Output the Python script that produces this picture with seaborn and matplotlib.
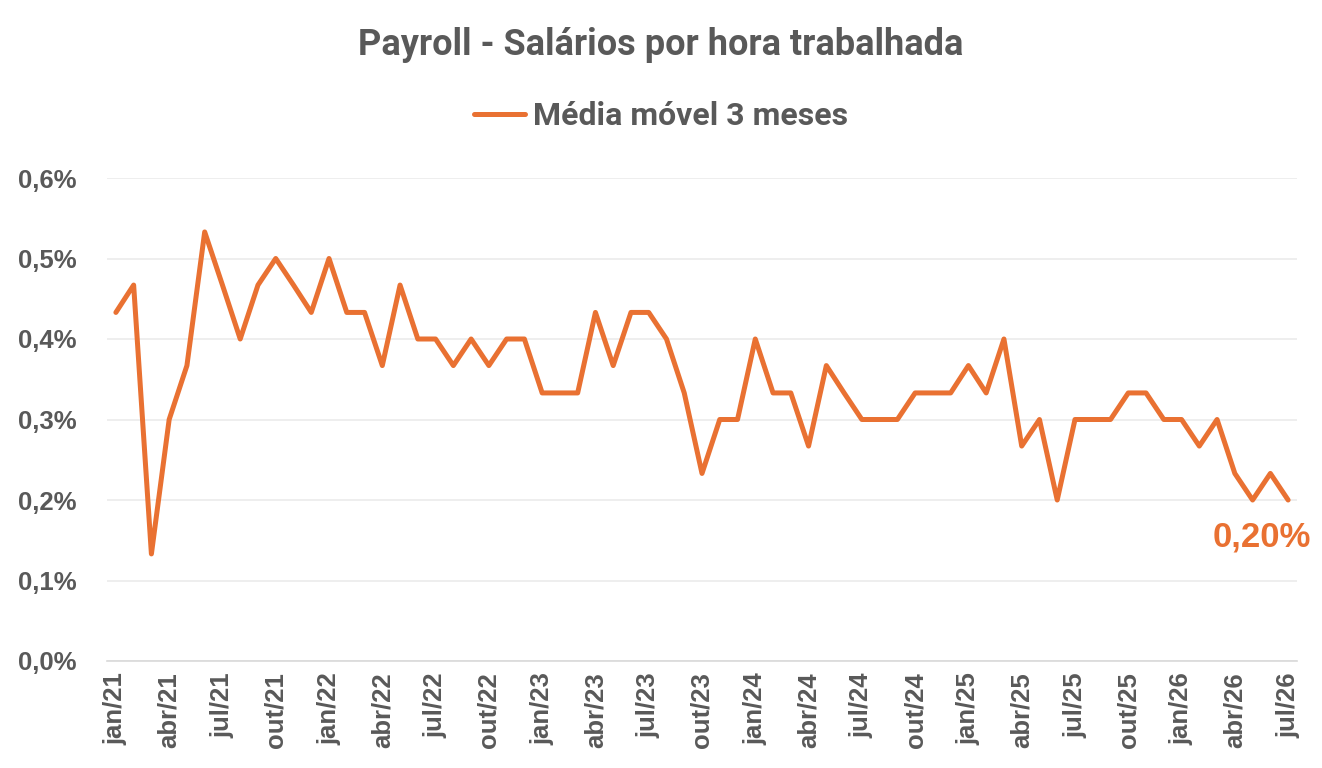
import matplotlib
matplotlib.use("Agg")
import matplotlib.pyplot as plt
import seaborn as sns
import pandas as pd
from matplotlib.ticker import FixedLocator, FuncFormatter

# ---------------------------------------------------------------
# Data: 3-month moving average of hourly wage growth (% m/m)
# ---------------------------------------------------------------
tick_labels = [
    "jan/21", "abr/21", "jul/21", "out/21",
    "jan/22", "abr/22", "jul/22", "out/22",
    "jan/23", "abr/23", "jul/23", "out/23",
    "jan/24", "abr/24", "jul/24", "out/24",
    "jan/25", "abr/25", "jul/25", "out/25",
    "jan/26", "abr/26", "jul/26",
]

media_movel = [
    0.433, 0.467, 0.133, 0.300, 0.367, 0.533, 0.467, 0.400, 0.467, 0.500, 0.467, 0.433,
    0.500, 0.433, 0.433, 0.367, 0.467, 0.400, 0.400, 0.367, 0.400, 0.367, 0.400, 0.400,
    0.333, 0.333, 0.333, 0.433, 0.367, 0.433, 0.433, 0.400, 0.333, 0.233, 0.300, 0.300,
    0.400, 0.333, 0.333, 0.267, 0.367, 0.333, 0.300, 0.300, 0.300, 0.333, 0.333, 0.333,
    0.367, 0.333, 0.400, 0.267, 0.300, 0.200, 0.300, 0.300, 0.300, 0.333, 0.333, 0.300,
    0.300, 0.267, 0.300, 0.233, 0.200, 0.233, 0.200,
]

df = pd.DataFrame({"mes": range(len(media_movel)), "valor": media_movel})

# ---------------------------------------------------------------
# Style
# ---------------------------------------------------------------
sns.set_style("white")
plt.rcParams["font.family"] = ["Liberation Sans", "DejaVu Sans"]

orange = "#E97132"
grey_text = "#595959"
grid_col = "#EBEBEB"
axis_col = "#D9D9D9"

fig = plt.figure(figsize=(13.22, 7.68), dpi=100)
ax = fig.add_axes([107 / 1322, 1 - 661 / 768, 1190 / 1322, (661 - 178) / 768])

sns.lineplot(data=df, x="mes", y="valor", color=orange, linewidth=3.6,
             ax=ax, label="Média móvel 3 meses", legend=False)

# Axes limits and grid
ax.set_xlim(-0.5, len(media_movel) - 0.5)
ax.set_ylim(0, 0.6)
ax.set_yticks([0, 0.1, 0.2, 0.3, 0.4, 0.5, 0.6])
ax.yaxis.set_major_formatter(FuncFormatter(lambda v, p: f"{v:.1f}%".replace(".", ",")))
ax.grid(axis="y", color=grid_col, linewidth=1.2)
ax.set_axisbelow(True)

# x axis: labels every 3 months, tick marks between categories
ax.set_xticks(range(0, len(media_movel), 3))
ax.set_xticklabels(tick_labels, rotation=90)
ax.xaxis.set_minor_locator(FixedLocator([i - 0.5 for i in range(0, len(media_movel), 3)]))
ax.tick_params(axis="x", which="major", length=0, pad=8)
ax.tick_params(axis="x", which="minor", length=6, width=1.2, color=axis_col)
ax.tick_params(axis="y", length=0, pad=22)

for lbl in ax.get_xticklabels() + ax.get_yticklabels():
    lbl.set_fontsize(18.5)
    lbl.set_fontweight("bold")
    lbl.set_color(grey_text)

for side in ["top", "right", "left"]:
    ax.spines[side].set_visible(False)
ax.spines["bottom"].set_color(axis_col)
ax.spines["bottom"].set_linewidth(1.2)
ax.set_xlabel("")
ax.set_ylabel("")

# Last value annotation
ax.annotate("0,20%", xy=(len(media_movel) - 1, media_movel[-1]),
            xytext=(-26, -37), textcoords="offset pixels",
            ha="center", va="center", fontsize=25, fontweight="bold", color=orange)

# Title and legend
fig.text(0.5, 1 - 45 / 768, "Payroll - Salários por hora trabalhada",
         ha="center", va="center", fontsize=26, fontweight="bold", color=grey_text,
         family=["Roboto", "DejaVu Sans"])

handles, labels = ax.get_legend_handles_labels()
leg = fig.legend(handles, labels, loc="center", bbox_to_anchor=(0.5, 1 - 116 / 768),
                 frameon=False, handlelength=1.6, handletextpad=0.25,
                 prop={"family": ["Roboto", "DejaVu Sans"], "weight": "bold", "size": 23})
for t in leg.get_texts():
    t.set_color(grey_text)

plt.savefig("out.png", dpi=100)
